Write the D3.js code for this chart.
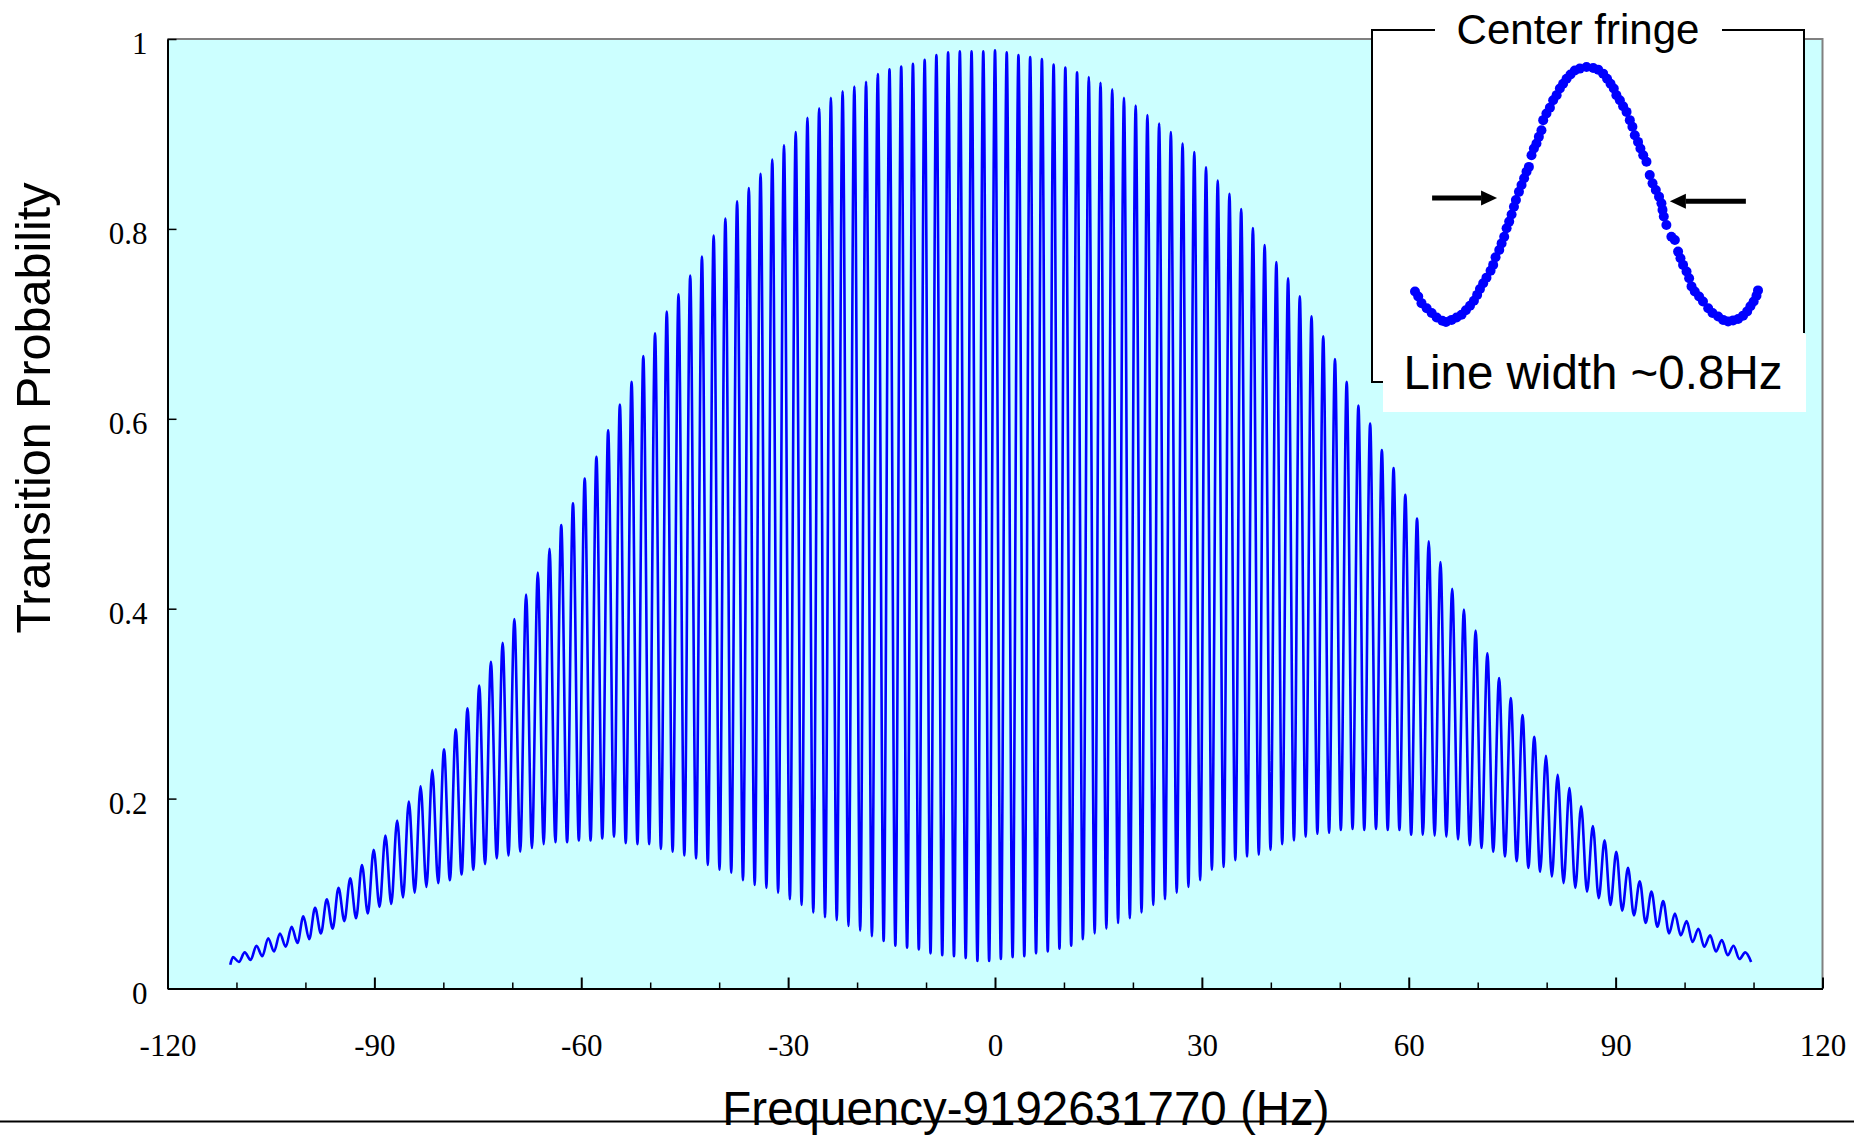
<!DOCTYPE html>
<html>
<head>
<meta charset="utf-8">
<script src="https://cdn.jsdelivr.net/npm/d3@7"></script>
<style>
  body { margin: 0; background: #fff; }
  svg { display: block; }
</style>
</head>
<body>
<div id="chart"></div>
<script>
// ---------- data ----------
// fringe peaks are evenly spaced; first peak and spacing in Hz
const firstPeakFreq = -110.5;
const fringeSpacing = 1.7;
const startFreq = -110.9, startProb = 0.025;

// height of each fringe peak, left to right
const peakProb = [
  0.033,0.038,0.045,0.053,0.058,0.065,0.076,0.085,0.094,0.106,
  0.116,0.130,0.146,0.161,0.177,0.197,0.213,0.230,0.252,0.273,
  0.295,0.319,0.344,0.364,0.389,0.415,0.438,0.463,0.488,0.511,
  0.537,
  0.560,0.588,0.615,0.639,0.666,0.690,0.713,0.731,0.751,0.771,
  0.793,0.811,0.829,0.843,0.858,0.873,0.888,0.902,0.917,0.927,
  0.938,0.945,0.950,0.955,0.963,0.968,0.971,0.974,0.978,0.983,
  0.986,0.987,0.987,0.987,0.988,
  0.986,0.983,0.981,0.979,0.973,0.970,0.965,0.960,0.954,0.947,
  0.938,0.930,0.920,0.911,0.902,0.890,0.881,0.865,0.851,0.837,
  0.821,0.801,0.783,0.765,0.748,0.729,0.708,0.687,0.663,0.639,
  0.614,0.595,0.567,0.548,0.520,
  0.495,0.471,0.449,0.421,0.399,0.377,0.353,0.327,0.306,0.288,
  0.265,0.245,0.225,0.211,0.192,0.171,0.156,0.144,0.127,0.113,
  0.102,0.092,0.079,0.071,0.063,0.056,0.051,0.045,0.038
];

// depth of the trough that follows each peak
const troughProb = [
  0.028,0.030,0.034,0.039,0.044,0.048,0.052,0.058,0.063,0.071,
  0.074,0.079,0.086,0.089,0.096,0.101,0.107,0.111,0.114,0.120,
  0.125,0.131,0.137,0.140,0.144,0.148,0.152,0.154,0.154,0.156,
  0.156,0.158,0.160,0.153,0.152,0.152,0.147,0.144,0.140,0.137,
  0.130,0.125,0.122,0.114,0.109,0.106,0.101,0.094,0.088,0.080,
  0.075,0.072,0.066,0.061,0.055,0.050,0.045,0.043,0.041,0.037,
  0.035,0.034,0.032,0.029,0.029,
  0.031,0.033,0.034,0.037,0.039,0.042,0.045,0.052,0.058,0.063,
  0.069,0.074,0.080,0.088,0.094,0.101,0.107,0.114,0.125,0.128,
  0.135,0.139,0.141,0.146,0.152,0.156,0.160,0.163,0.164,0.167,
  0.168,0.167,0.168,0.167,0.167,
  0.162,0.162,0.161,0.160,0.157,0.151,0.148,0.144,0.139,0.134,
  0.127,0.123,0.118,0.111,0.106,0.102,0.095,0.088,0.082,0.077,
  0.069,0.065,0.058,0.056,0.049,0.044,0.039,0.035,0.031,0.028
];

// inset: centre fringe points (Hz from line centre, probability)
const insetFreq = [
  -0.792,-0.777,-0.762,-0.738,-0.715,-0.692,-0.666,-0.649,-0.623,-0.600,
  -0.577,-0.557,-0.538,-0.520,-0.505,-0.492,-0.477,-0.462,-0.443,-0.431,
  -0.420,-0.403,-0.392,-0.380,-0.369,-0.357,-0.346,-0.335,-0.326,-0.312,
  -0.300,-0.288,-0.277,-0.266,-0.254,-0.243,-0.231,-0.220,-0.208,-0.200,
  -0.185,-0.169,-0.154,-0.138,-0.123,-0.108,-0.092,-0.074,-0.054,-0.031,
  0,
  0.031,0.054,0.077,0.095,0.111,0.126,0.138,0.154,0.169,0.185,
  0.200,0.212,0.223,0.238,0.249,0.262,0.277,0.292,0.305,0.320,
  0.335,0.346,0.351,0.357,0.369,0.392,0.408,0.423,0.434,0.446,
  0.462,0.474,0.485,0.500,0.520,0.538,0.562,0.582,0.608,0.631,
  0.654,0.677,0.700,0.723,0.742,0.757,0.772,0.785,0.792
];
const insetProb = [
  0.145,0.126,0.101,0.082,0.064,0.047,0.035,0.030,0.038,0.047,
  0.057,0.074,0.091,0.110,0.132,0.154,0.176,0.197,0.223,0.245,
  0.274,0.301,0.326,0.351,0.383,0.408,0.435,0.464,0.489,0.520,
  0.546,0.571,0.596,0.614,0.658,0.683,0.702,0.727,0.752,0.790,
  0.815,0.837,0.865,0.884,0.909,0.927,0.946,0.962,0.977,0.984,
  0.990,
  0.986,0.980,0.965,0.946,0.927,0.909,0.884,0.865,0.842,0.821,
  0.790,0.765,0.733,0.708,0.683,0.658,0.633,0.583,0.552,0.527,
  0.502,0.477,0.452,0.427,0.395,0.351,0.339,0.295,0.270,0.245,
  0.220,0.195,0.164,0.145,0.126,0.107,0.082,0.064,0.051,0.038,
  0.032,0.036,0.041,0.054,0.070,0.089,0.107,0.129,0.149
];

// ticks
const xMajorTicks = [-120, -90, -60, -30, 0, 30, 60, 90, 120];
const xMajorLabels = ["-120", "-90", "-60", "-30", "0", "30", "60", "90", "120"];
const xMinorTicks = [-110, -100, -80, -70, -50, -40, -20, -10, 10, 20, 40, 50, 70, 80, 100, 110];
const yTicks = [0, 0.2, 0.4, 0.6, 0.8, 1];
const yTickLabels = ["0", "0.2", "0.4", "0.6", "0.8", "1"];

// ---------- svg ----------
const W = 1854, H = 1136;
const svg = d3.select("#chart")
  .append("svg")
  .attr("width", W)
  .attr("height", H);

const plot = { left: 167.5, right: 1822.5, top: 39, bottom: 988.5 };
const serif = "'Liberation Serif', 'Times New Roman', serif";
const sans = "'Liberation Sans', Arial, sans-serif";

const x = d3.scaleLinear().domain([-120, 120]).range([plot.left, plot.right]);
const y = d3.scaleLinear().domain([0, 1]).range([plot.bottom, plot.top]);

// plot background
svg.append("rect")
  .attr("x", plot.left).attr("y", plot.top)
  .attr("width", plot.right - plot.left)
  .attr("height", plot.bottom - plot.top)
  .attr("fill", "#ccffff");

// grey top / right frame
svg.append("path")
  .attr("d", `M${plot.left},${plot.top}H${plot.right}V${plot.bottom}`)
  .attr("fill", "none")
  .attr("stroke", "#808080")
  .attr("stroke-width", 2);

// ---------- main curve ----------
const points = [{ freq: startFreq, prob: startProb }];
peakProb.forEach((p, i) => {
  const f = firstPeakFreq + i * fringeSpacing;
  points.push({ freq: f, prob: p });
  points.push({ freq: f + fringeSpacing / 2, prob: troughProb[i] });
});

const line = d3.line()
  .x(d => x(d.freq))
  .y(d => y(d.prob))
  .curve(d3.curveMonotoneX);

svg.append("path")
  .datum(points)
  .attr("d", line)
  .attr("fill", "none")
  .attr("stroke", "#0000ff")
  .attr("stroke-width", 2.6)
  .attr("stroke-linejoin", "round");

// ---------- axes ----------
const xMinor = svg.append("g")
  .attr("transform", `translate(0,${plot.bottom})`)
  .call(d3.axisBottom(x).tickValues(xMinorTicks).tickSize(-6).tickSizeOuter(0).tickFormat(() => ""));
xMinor.select(".domain").remove();
xMinor.selectAll("line").attr("stroke", "#000").attr("stroke-width", 1.5);

const xAxis = svg.append("g")
  .attr("transform", `translate(0,${plot.bottom})`)
  .call(d3.axisBottom(x).tickValues(xMajorTicks).tickSize(-11).tickSizeOuter(0)
    .tickPadding(45).tickFormat((d, i) => xMajorLabels[i]));
xAxis.select(".domain").attr("stroke", "#000").attr("stroke-width", 2);
xAxis.selectAll("line").attr("stroke", "#000").attr("stroke-width", 2);
xAxis.selectAll("text")
  .attr("font-family", serif)
  .attr("font-size", 31)
  .attr("fill", "#000");

const yAxis = svg.append("g")
  .attr("transform", `translate(${plot.left},0)`)
  .call(d3.axisLeft(y).tickValues(yTicks).tickSize(-9).tickSizeOuter(0)
    .tickFormat((d, i) => yTickLabels[i]));
yAxis.select(".domain").attr("stroke", "#000").attr("stroke-width", 2);
yAxis.selectAll("line").attr("stroke", "#000").attr("stroke-width", 1.5);
yAxis.selectAll("text")
  .attr("x", -20)
  .attr("y", 4)
  .attr("dy", "0.35em")
  .attr("text-anchor", "end")
  .attr("font-family", serif)
  .attr("font-size", 31)
  .attr("fill", "#000");

// ---------- titles ----------
svg.append("text")
  .attr("transform", "translate(50,408) rotate(-90)")
  .attr("text-anchor", "middle")
  .attr("font-family", sans)
  .attr("font-size", 48.5)
  .text("Transition Probability");

svg.append("text")
  .attr("x", 1026).attr("y", 1125)
  .attr("text-anchor", "middle")
  .attr("font-family", sans)
  .attr("font-size", 47.5)
  .text("Frequency-9192631770 (Hz)");

svg.append("line")
  .attr("x1", 0).attr("x2", W)
  .attr("y1", 1121.5).attr("y2", 1121.5)
  .attr("stroke", "#000")
  .attr("stroke-width", 2);

// ---------- inset ----------
const inset = svg.append("g");

inset.append("rect")
  .attr("x", 1372).attr("y", 30).attr("width", 432).attr("height", 352)
  .attr("fill", "#fff");
inset.append("path")
  .attr("d", "M1383,382H1372V30H1435M1722,30H1804V333")
  .attr("fill", "none")
  .attr("stroke", "#000")
  .attr("stroke-width", 2);
inset.append("rect")
  .attr("x", 1383).attr("y", 334).attr("width", 423).attr("height", 78)
  .attr("fill", "#fff");

inset.append("text")
  .attr("x", 1578).attr("y", 44)
  .attr("text-anchor", "middle")
  .attr("font-family", sans)
  .attr("font-size", 42)
  .text("Center fringe");

inset.append("text")
  .attr("x", 1593).attr("y", 389)
  .attr("text-anchor", "middle")
  .attr("font-family", sans)
  .attr("font-size", 47.5)
  .text("Line width ~0.8Hz");

const ix = d3.scaleLinear().domain([-0.792, 0.792]).range([1415, 1758]);
const iy = d3.scaleLinear().domain([0.03, 0.99]).range([322, 67]);

inset.selectAll("circle")
  .data(insetFreq.map((f, i) => ({ f: f, p: insetProb[i] })))
  .enter()
  .append("circle")
  .attr("cx", d => ix(d.f))
  .attr("cy", d => iy(d.p))
  .attr("r", 5)
  .attr("fill", "#0000ff");

// width arrows at half height
function arrow(x0, x1, yy) {
  const dir = Math.sign(x1 - x0);
  const head = 16;
  inset.append("line")
    .attr("x1", x0).attr("x2", x1 - dir * head)
    .attr("y1", yy).attr("y2", yy)
    .attr("stroke", "#000").attr("stroke-width", 5);
  inset.append("path")
    .attr("d", `M${x1},${yy}L${x1 - dir * head},${yy - 7.5}L${x1 - dir * head},${yy + 7.5}Z`)
    .attr("fill", "#000");
}
arrow(ix(-0.713), ix(-0.413), iy(0.497));
arrow(ix(0.736), ix(0.385), iy(0.485));
</script>
</body>
</html>
